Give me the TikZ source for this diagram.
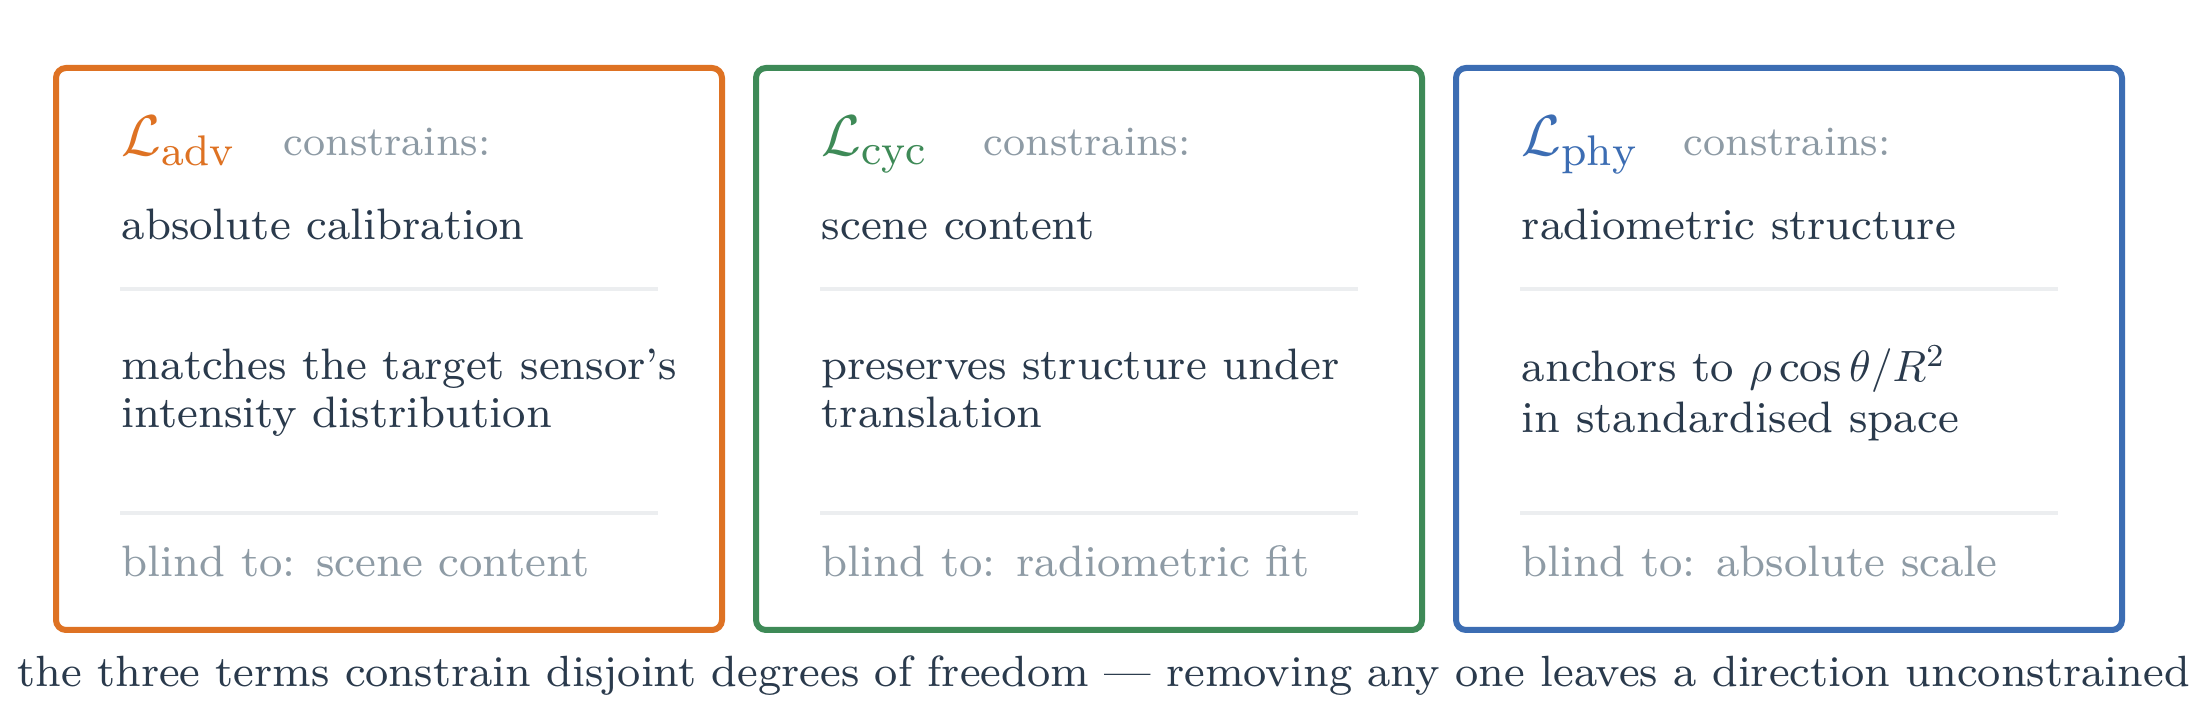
\documentclass[tikz,border=0pt]{standalone}
\usepackage{amsmath}
\usepackage{fontspec}
\setmainfont{lmroman8-regular.otf}
\definecolor{cOrange}{HTML}{DE7223}
\definecolor{cGreen}{HTML}{3E8A57}
\definecolor{cBlue}{HTML}{3C6DB3}
\definecolor{cText}{HTML}{2A3A4C}
\definecolor{cGray}{HTML}{8E9BA5}
\definecolor{cSep}{HTML}{ECEEF0}
\newcommand{\twolines}[3][0pt]{\begin{tabular}[t]{@{}l@{}}#2\\[#1]#3\end{tabular}}
\begin{document}
\begin{tikzpicture}[x=0.25pt,y=-0.25pt,
  boxline/.style={line width=1.5pt, rounded corners=2.5pt},
  sepline/.style={draw=cSep, line width=1pt},
  titletext/.style={anchor=base west, inner sep=0pt, font=\fontsize{15.3}{18}\selectfont},
  constrtext/.style={anchor=base west, inner sep=0pt, text=cGray, font=\fontsize{10.4}{12}\selectfont},
  bodytext/.style={anchor=base west, inner sep=0pt, text=cText, font=\fontsize{11}{12}\selectfont},
  blindtext/.style={anchor=base west, inner sep=0pt, text=cGray, font=\fontsize{11}{12}\selectfont},
  captext/.style={anchor=base, inner sep=0pt, text=cText, font=\fontsize{10.93}{12}\selectfont}]
\useasboundingbox[fill=white] (0,0) rectangle (2207,725);

% ---- box 1: adversarial
\draw[boxline, draw=cOrange] (56,68) rectangle (722,630);
\node[titletext, text=cOrange] (t1) at (121,156) {$\mathcal{L}_{\mathrm{adv}}$};
\node[constrtext] (c1) at (283,156) {constrains:};
\node[bodytext] (h1) at (121,240) {absolute calibration};
\coordinate (s1a) at (120,289); \coordinate (s1b) at (658,289);
\draw[sepline] (s1a) -- (s1b);
\node[bodytext] (m1) at (121,380) {\twolines{matches the target sensor's}{intensity distribution}};
\coordinate (s2a) at (120,513); \coordinate (s2b) at (658,513);
\draw[sepline] (s2a) -- (s2b);
\node[blindtext] (b1) at (121,577) {blind to: scene content};

% ---- box 2: cycle
\draw[boxline, draw=cGreen] (756,68) rectangle (1422,630);
\node[titletext, text=cGreen] (t2) at (821,156) {$\mathcal{L}_{\mathrm{cyc}}$};
\node[constrtext] (c2) at (983,156) {constrains:};
\node[bodytext] (h2) at (821,240) {scene content};
\coordinate (s3a) at (820,289); \coordinate (s3b) at (1358,289);
\draw[sepline] (s3a) -- (s3b);
\node[bodytext] (m2) at (821,380) {\twolines{preserves structure under}{translation}};
\coordinate (s4a) at (820,513); \coordinate (s4b) at (1358,513);
\draw[sepline] (s4a) -- (s4b);
\node[blindtext] (b2) at (821,577) {blind to: radiometric fit};

% ---- box 3: physics
\draw[boxline, draw=cBlue] (1456,68) rectangle (2122,630);
\node[titletext, text=cBlue] (t3) at (1521,156) {$\mathcal{L}_{\mathrm{phy}}$};
\node[constrtext] (c3) at (1683,156) {constrains:};
\node[bodytext] (h3) at (1521,240) {radiometric structure};
\coordinate (s5a) at (1520,289); \coordinate (s5b) at (2058,289);
\draw[sepline] (s5a) -- (s5b);
\node[bodytext] (m3) at (1521,382) {\twolines[0.75pt]{anchors to $\rho\cos\theta/R^2$}{in standardised space}};
\coordinate (s6a) at (1520,513); \coordinate (s6b) at (2058,513);
\draw[sepline] (s6a) -- (s6b);
\node[blindtext] (b3) at (1521,577) {blind to: absolute scale};

% ---- caption
\node[captext] (cap) at (1103.5,687) {the three terms constrain disjoint degrees of freedom --- removing any one leaves a direction unconstrained};
\end{tikzpicture}
\end{document}
